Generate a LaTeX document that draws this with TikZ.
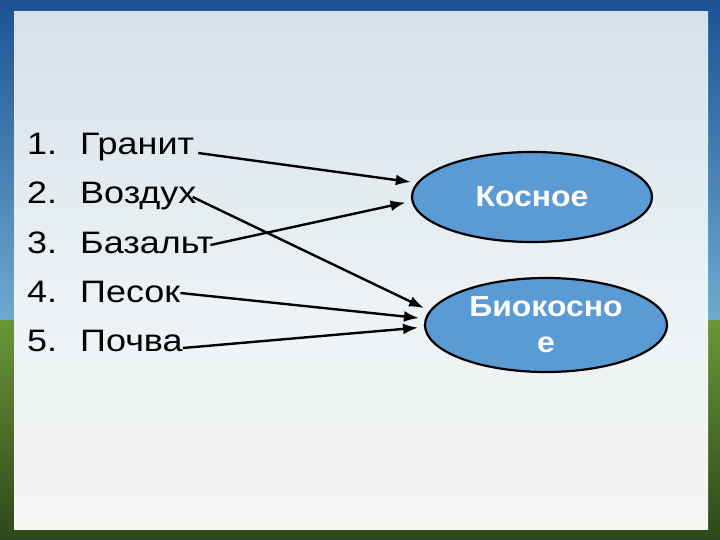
\documentclass[tikz,border=0pt]{standalone}
\usepackage{fontspec}
\setmainfont{Liberation Sans}
\newfontfamily\widefont[FakeStretch=1.16]{Liberation Sans}
\newfontfamily\widebold[FakeStretch=1.1]{Liberation Sans Bold}
\usetikzlibrary{shapes.geometric, arrows.meta, positioning}

\definecolor{skytop}{RGB}{28,82,148}
\definecolor{skylow}{RGB}{110,170,205}
\definecolor{grasstop}{RGB}{105,150,55}
\definecolor{grasslow}{RGB}{45,72,25}
\definecolor{paneltop}{RGB}{214,225,233}
\definecolor{panelmid}{RGB}{236,242,245}
\definecolor{panellow}{RGB}{246,246,243}
\definecolor{ovalblue}{RGB}{91,155,213}

\tikzstyle{listitem} = [anchor=base west,
                        inner sep=0pt,
                        font=\widefont\fontsize{31}{36}\selectfont,
                       ]
\tikzstyle{oval} = [ellipse,
                    draw=black,
                    line width=2.2pt,
                    fill=ovalblue,
                    minimum width=240pt,
                    minimum height=90pt,
                    inner sep=0pt,
                    text=white,
                    align=center,
                    font=\widebold\fontsize{29}{36}\selectfont,
                   ]
\tikzstyle{arrow} = [line width=2.4pt,->,>={Latex[length=15pt,width=11pt]},shorten >=6pt]
\newcommand{\itemno}[1]{\makebox[53pt][l]{#1}}

\begin{document}
\begin{tikzpicture}[x=1pt, y=1pt]

\useasboundingbox (0,0) rectangle (720,-540);
% slide background
\fill [top color=skytop, bottom color=skylow] (0,0) rectangle (720,-320);
\fill [top color=grasstop, bottom color=grasslow] (0,-320) rectangle (720,-540);
\fill [top color=paneltop, bottom color=panelmid] (14,-12) rectangle (708,-300);
\fill [top color=panelmid, bottom color=panellow] (14,-300) rectangle (708,-529);

\node (granit) [listitem] at (27,-155) {\itemno{1.}Гранит};
\node (vozdukh) [listitem, below=49pt of granit.base west, anchor=base west] {\itemno{2.}Воздух};
\node (bazalt) [listitem, below=49pt of vozdukh.base west, anchor=base west] {\itemno{3.}Базальт};
\node (pesok) [listitem, below=49pt of bazalt.base west, anchor=base west] {\itemno{4.}Песок};
\node (pochva) [listitem, below=49pt of pesok.base west, anchor=base west] {\itemno{5.}Почва};

\node (kosnoe) [oval] at (532,-197) {Косное};
\node (biokosnoe) [oval, minimum width=242pt, minimum height=94pt] at (546,-325) {Биокосно\\е};

\draw [arrow] ([xshift=4pt,yshift=2pt]granit.base east) -- (kosnoe.173);
\draw [arrow] ([xshift=-4pt,yshift=7pt]vozdukh.base east) -- (biokosnoe.173);
\draw [arrow] ([xshift=-3pt,yshift=8pt]bazalt.base east) -- (kosnoe.182);
\draw [arrow] ([yshift=9pt]pesok.base east) -- (biokosnoe.177);
\draw [arrow] ([yshift=3pt]pochva.base east) -- (biokosnoe.181);

\end{tikzpicture}
\end{document}
